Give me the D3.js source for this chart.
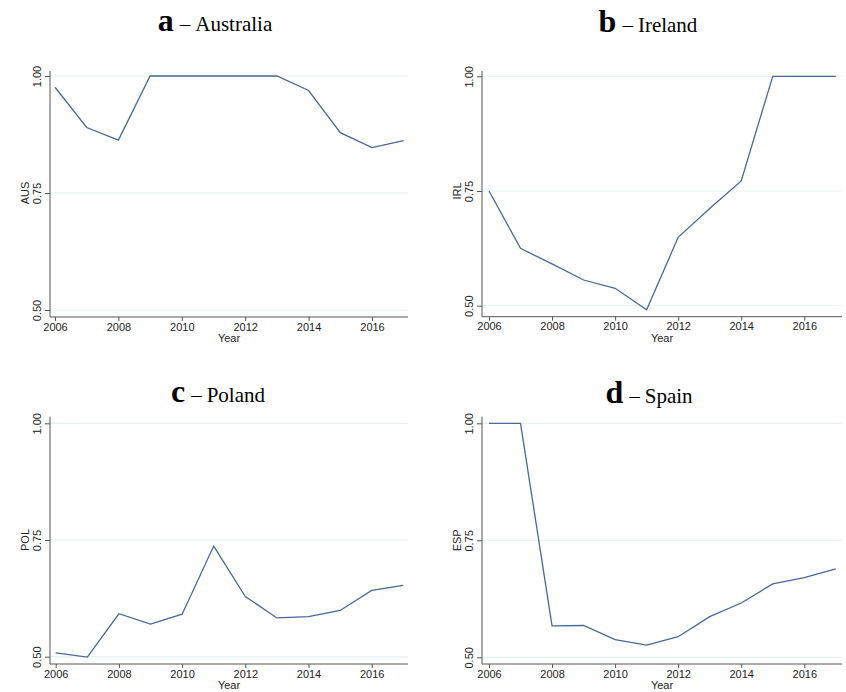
<!DOCTYPE html>
<html>
<head>
<meta charset="utf-8">
<script src="https://cdn.jsdelivr.net/npm/d3@7"></script>
<style>
  body { margin: 0; background: #fff; }
  svg text { font-family: Arial, "Liberation Sans", sans-serif; }
</style>
</head>
<body>
<svg id="chart" width="846" height="692"></svg>
<script>
// ---- data ----
const years = [2006, 2007, 2008, 2009, 2010, 2011, 2012, 2013, 2014, 2015, 2016, 2017];
const xTicks = [2006, 2008, 2010, 2012, 2014, 2016];
const yTicks = [0.50, 0.75, 1.00];

const ausValues = [0.976, 0.890, 0.863, 1.00, 1.00, 1.00, 1.00, 1.00, 0.969, 0.879, 0.847, 0.862];
const irlValues = [0.750, 0.625, 0.591, 0.556, 0.538, 0.491, 0.649, 0.712, 0.772, 1.00, 1.00, 1.00];
const polValues = [0.508, 0.499, 0.592, 0.570, 0.591, 0.737, 0.629, 0.583, 0.586, 0.599, 0.642, 0.653];
const espValues = [1.00, 1.00, 0.567, 0.568, 0.538, 0.526, 0.544, 0.587, 0.616, 0.657, 0.670, 0.689];

const panels = [
  { letter: 'a', name: 'Australia', code: 'AUS', values: ausValues,
    box: { axisX: 50, top: 71, y1: 76, y0: 310, axisY: 317, x0: 55, x1: 403.7, right: 408, titleX: 215, titleY: 31 } },
  { letter: 'b', name: 'Ireland', code: 'IRL', values: irlValues,
    box: { axisX: 482, top: 71, y1: 76.3, y0: 305.7, axisY: 316.7, x0: 489, x1: 835.8, right: 842, titleX: 648, titleY: 32 } },
  { letter: 'c', name: 'Poland', code: 'POL', values: polValues,
    box: { axisX: 50, top: 416.7, y1: 423.3, y0: 656.7, axisY: 664, x0: 55.7, x1: 403.3, right: 408, titleX: 218, titleY: 402 } },
  { letter: 'd', name: 'Spain', code: 'ESP', values: espValues,
    box: { axisX: 482, top: 416.7, y1: 423.3, y0: 657.3, axisY: 664, x0: 489, x1: 835.8, right: 842, titleX: 649, titleY: 403 } }
];

const svg = d3.select('#chart');

panels.forEach(p => {
  const b = p.box;
  const g = svg.append('g');

  const x = d3.scaleLinear().domain([2006, 2017]).range([b.x0, b.x1]);
  const y = d3.scaleLinear().domain([0.5, 1.0]).range([b.y0, b.y1]);

  // title: bold panel letter + country name
  const t = g.append('text')
    .attr('x', b.titleX).attr('y', b.titleY)
    .attr('text-anchor', 'middle')
    .style('font-family', '"Times New Roman", "Liberation Serif", serif')
    .attr('fill', '#000');
  t.append('tspan').text(p.letter)
    .style('font-weight', 'bold').style('font-size', '32px');
  t.append('tspan').attr('dx', 6).text('\u2013')
    .style('font-size', '21px');
  t.append('tspan').attr('dx', 5).text(p.name)
    .style('font-size', '21px');

  // gridlines
  g.selectAll('line.grid')
    .data(yTicks)
    .join('line')
      .attr('class', 'grid')
      .attr('x1', b.axisX).attr('x2', b.right)
      .attr('y1', d => y(d)).attr('y2', d => y(d))
      .attr('stroke', '#e6eff1')
      .attr('stroke-width', 1);

  // y axis
  const yAxis = d3.axisLeft(y).tickValues(yTicks).tickFormat(d3.format('.2f')).tickSize(5);
  const ya = g.append('g')
    .attr('transform', `translate(${b.axisX},0)`)
    .call(yAxis);
  ya.select('.domain').attr('d', `M0,${b.top}V${b.axisY}`).attr('stroke', '#555');
  ya.selectAll('.tick line').attr('stroke', '#555');
  ya.selectAll('.tick text')
    .attr('x', 0).attr('dy', 0)
    .attr('transform', 'translate(-9,0) rotate(-90)')
    .attr('text-anchor', 'middle')
    .style('font-size', '11px')
    .attr('fill', '#222');

  // x axis
  const xAxis = d3.axisBottom(x).tickValues(xTicks).tickFormat(d3.format('d')).tickSize(4);
  const xa = g.append('g')
    .attr('transform', `translate(0,${b.axisY})`)
    .call(xAxis);
  xa.select('.domain').attr('d', `M${b.axisX},0H${b.right}`).attr('stroke', '#555');
  xa.selectAll('.tick line').attr('stroke', '#555');
  xa.selectAll('.tick text')
    .attr('y', 6).attr('dy', '0.71em')
    .style('font-size', '11px')
    .attr('fill', '#222');

  // axis titles
  g.append('text')
    .attr('transform', `translate(${b.axisX - 21},${y(0.75)}) rotate(-90)`)
    .attr('text-anchor', 'middle')
    .style('font-size', '11px')
    .attr('fill', '#222')
    .text(p.code);

  g.append('text')
    .attr('x', (b.axisX + b.right) / 2)
    .attr('y', b.axisY + 25)
    .attr('text-anchor', 'middle')
    .style('font-size', '11px')
    .attr('fill', '#222')
    .text('Year');

  // series
  const line = d3.line().x((d, i) => x(years[i])).y(d => y(d));
  g.append('path')
    .datum(p.values)
    .attr('d', line)
    .attr('fill', 'none')
    .attr('stroke', '#46699a')
    .attr('stroke-width', 1.3);
});
</script>
</body>
</html>
